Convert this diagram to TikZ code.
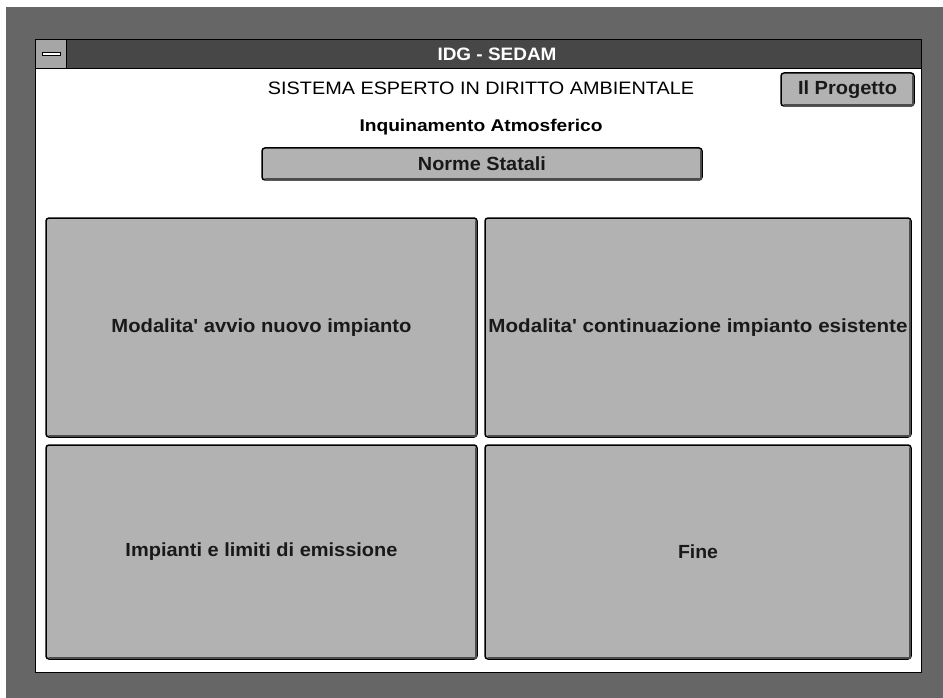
\documentclass[tikz,border=0pt]{standalone}
\usepackage{fontspec}
\setmainfont{Liberation Sans}
\usepackage{xcolor}
\usepackage{graphicx}
\newcommand{\fitw}[2]{\resizebox{#1}{\height}{#2}}

\begin{document}
\begin{tikzpicture}[x=1pt,y=-1pt,
                    button/.style={shape=rectangle,draw=black,line width=1.5pt,rounded corners=3pt,fill=black!30,inner sep=0pt,font=\bfseries\fontsize{19}{21}\selectfont,text=black!90},
                    bevel/.style={draw=black!70,line width=2pt,line cap=round}]
                    \useasboundingbox (0,0) rectangle (943,698);
                    \fill[white] (0,0) rectangle (943,698);
                    \fill[black!60] (6,7) rectangle (943,698);

                    \node[shape=rectangle,draw=black,line width=1pt,fill=white,minimum width=886pt,minimum height=633pt,inner sep=0pt,anchor=north west] (win) at (35,39) {};
                    \node[shape=rectangle,draw=black,line width=1pt,fill=black!72,minimum width=886pt,minimum height=29pt,inner sep=0pt,anchor=north west] (bar) at (35,39) {};
                    \node[shape=rectangle,draw=black,line width=1pt,fill=black!35,minimum width=31pt,minimum height=29pt,inner sep=0pt,anchor=north west] (menu) at (35,39) {};
                    \node[text=white,font=\bfseries\fontsize{18}{20}\selectfont,inner sep=0pt] (title) at (497,54) {\fitw{119pt}{IDG - SEDAM}};
                    \draw[draw=black,fill=white,line width=0.8pt] ([shift={(-9,-1.5)}]menu.center) rectangle ([shift={(9,1.5)}]menu.center);

                    \node[font=\fontsize{18}{20}\selectfont,inner sep=0pt] (head) at (481,88) {\fitw{426pt}{SISTEMA ESPERTO IN DIRITTO AMBIENTALE}};
                    \node[font=\bfseries\fontsize{17}{19}\selectfont,inner sep=0pt] (sub) at (481,127) {\fitw{243pt}{Inquinamento Atmosferico}};

                    \node[button,minimum width=133pt,minimum height=33pt] (pr) at (847.5,89.5) {\fitw{99pt}{Il Progetto}};
                    \node[button,minimum width=440pt,minimum height=32pt] (ns) at (482,164) {\fitw{128pt}{Norme Statali}};
                    \node[button,minimum width=431pt,minimum height=219pt] (np) at (261.5,327.5) {\fitw{300pt}{Modalita\textquotesingle{} avvio nuovo impianto}};
                    \node[button,minimum width=426pt,minimum height=219pt] (ce) at (698,327.5) {\fitw{419pt}{Modalita\textquotesingle{} continuazione impianto esistente}};
                    \node[button,minimum width=431pt,minimum height=214pt] (il) at (261.5,552) {\fitw{272pt}{Impianti e limiti di emissione}};
                    \node[button,minimum width=426pt,minimum height=214pt] (fi) at (698,552) {\fitw{40pt}{Fine}};

                    \foreach \b in {pr,ns,np,ce,il,fi}
                        \draw[bevel] ([shift={(4,-2)}]\b.south west) -- ([shift={(-2,-2)}]\b.south east) -- ([shift={(-2,4)}]\b.north east);
                \end{tikzpicture}
\end{document}
